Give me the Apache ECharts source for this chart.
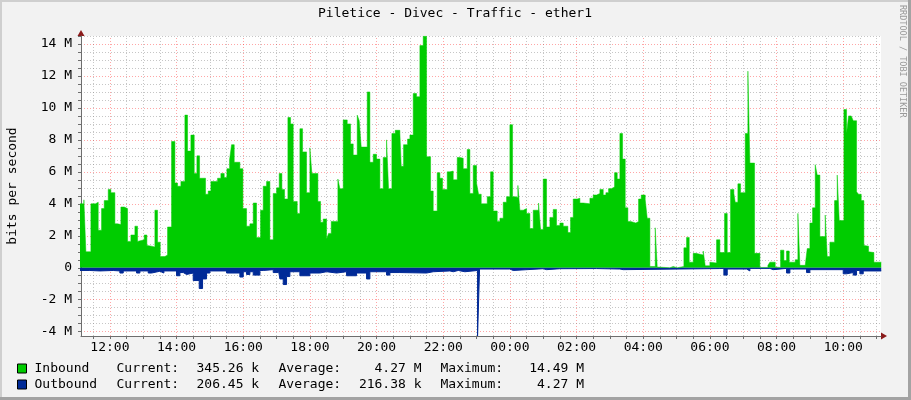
<!DOCTYPE html>
<html lang="en">
  <head>
    <meta charset="UTF-8" />
    <title>Piletice - Divec - Traffic - ether1</title>
    <script src="https://cdn.jsdelivr.net/npm/echarts@6/dist/echarts.min.js"></script>
    <style>
      html,
      body {
        width: 100%;
        height: 100%;
        margin: 0;
        padding: 0;
        background: #f2f2f2;
      }
    </style>
  </head>
  <body>
    <div id="main" style="width: 911px; height: 400px"></div>
    <script type="text/javascript">
      // time in hours since midnight of day one (values past 24 = next day), rates in Mbit/s
      var inbound = [
        [11.10, 4.0], [11.22, 4.25], [11.28, 1.0], [11.43, 4.0], [11.57, 4.1], [11.65, 2.35],
        [11.75, 3.7], [11.83, 4.2], [11.95, 4.9], [12.03, 4.7], [12.15, 2.75], [12.23, 2.7],
        [12.33, 3.8], [12.43, 3.7], [12.53, 1.65], [12.63, 2.05], [12.75, 2.6], [12.83, 1.65],
        [12.89, 1.75], [13.03, 2.05], [13.11, 1.4], [13.15, 1.35], [13.25, 1.3], [13.35, 3.6],
        [13.43, 1.6], [13.51, 0.7], [13.65, 0.8], [13.73, 2.55], [13.85, 7.9], [13.95, 5.3],
        [14.03, 5.1], [14.13, 5.4], [14.25, 9.55], [14.33, 7.3], [14.43, 8.3], [14.53, 5.9],
        [14.61, 7.0], [14.69, 5.6], [14.87, 4.6], [14.95, 4.8], [15.03, 5.4], [15.23, 5.6],
        [15.33, 5.9], [15.43, 5.65], [15.51, 6.2], [15.59, 6.75], [15.65, 7.7], [15.73, 6.6],
        [15.90, 6.2], [15.99, 3.7], [16.10, 2.6], [16.20, 2.75], [16.30, 4.05], [16.40, 1.9],
        [16.52, 3.6], [16.60, 5.1], [16.70, 5.4], [16.80, 1.75], [16.90, 4.65], [17.00, 5.0],
        [17.08, 5.9], [17.16, 4.9], [17.24, 4.3], [17.34, 9.4], [17.42, 9.0], [17.50, 4.15],
        [17.62, 3.4], [17.70, 8.7], [17.78, 7.25], [17.90, 4.7], [18.00, 7.5], [18.06, 5.9],
        [18.24, 4.15], [18.32, 2.85], [18.40, 3.05], [18.50, 1.8], [18.56, 2.15], [18.64, 2.9],
        [18.84, 5.55], [18.90, 4.95], [19.00, 9.25], [19.12, 9.0], [19.22, 7.75], [19.30, 7.05],
        [19.42, 9.55], [19.48, 9.2], [19.54, 7.55], [19.72, 11.0], [19.80, 6.6], [19.90, 7.1],
        [20.00, 6.8], [20.10, 4.95], [20.20, 6.9], [20.30, 8.0], [20.36, 4.95], [20.46, 8.4],
        [20.56, 8.6], [20.70, 8.4], [20.74, 6.35], [20.81, 7.7], [20.93, 8.05], [21.00, 8.3],
        [21.10, 10.9], [21.20, 10.7], [21.30, 13.9], [21.40, 14.49], [21.50, 6.95], [21.62, 4.8],
        [21.70, 3.55], [21.82, 5.95], [21.90, 5.6], [21.98, 4.9], [22.12, 6.0], [22.20, 6.05],
        [22.30, 5.5], [22.42, 6.9], [22.50, 6.85], [22.60, 6.2], [22.72, 7.4], [22.80, 4.65],
        [22.90, 6.4], [23.00, 5.3], [23.06, 4.6], [23.14, 4.0], [23.32, 4.45], [23.42, 6.0],
        [23.50, 3.55], [23.62, 2.9], [23.70, 3.1], [23.80, 4.1], [23.90, 4.45], [24.00, 8.95],
        [24.08, 4.45], [24.16, 4.4], [24.24, 5.15], [24.30, 3.6], [24.40, 3.7], [24.50, 3.4],
        [24.60, 2.45], [24.70, 3.6], [24.86, 4.05], [24.92, 2.4], [25.00, 5.55], [25.10, 2.55],
        [25.20, 3.15], [25.30, 3.65], [25.40, 2.65], [25.50, 2.8], [25.60, 2.6], [25.74, 2.2],
        [25.82, 3.15], [25.90, 4.3], [26.02, 4.35], [26.10, 4.05], [26.20, 4.0], [26.40, 4.35],
        [26.50, 4.55], [26.60, 4.65], [26.70, 4.9], [26.80, 4.55], [26.88, 4.7], [26.96, 4.95],
        [27.04, 5.05], [27.14, 5.95], [27.22, 5.55], [27.30, 8.4], [27.38, 6.8], [27.46, 3.75],
        [27.54, 2.9], [27.62, 2.85], [27.70, 2.8], [27.78, 2.9], [27.86, 4.3], [27.94, 4.55],
        [28.06, 4.25], [28.12, 3.1], [28.20, 0.08], [28.36, 2.5], [28.42, 0.04], [28.50, 0],
        [28.80, 0.08], [28.90, 0], [29.02, 0.08], [29.22, 1.25], [29.30, 1.9], [29.38, 0.35],
        [29.50, 0.9], [29.58, 0.8], [29.80, 1.05], [29.86, 0.12], [30.00, 0.35], [30.06, 0.3],
        [30.20, 1.75], [30.30, 0.95], [30.44, 3.4], [30.52, 0.95], [30.62, 4.9], [30.72, 4.65],
        [30.76, 4.1], [30.84, 5.25], [30.92, 4.7], [31.06, 8.4], [31.14, 12.3], [31.20, 6.55],
        [31.34, 0.9], [31.50, 0.02], [31.74, 0.15], [31.80, 0.35], [31.96, 0.05], [32.02, 0.02],
        [32.12, 1.1], [32.22, 0.45], [32.30, 1.05], [32.38, 0.35], [32.56, 0.5], [32.64, 3.4],
        [32.70, 0.15], [32.86, 0.25], [32.92, 1.2], [33.00, 2.8], [33.08, 3.75], [33.16, 6.45],
        [33.22, 5.8], [33.30, 1.95], [33.46, 3.3], [33.52, 0.7], [33.60, 1.6], [33.74, 4.2],
        [33.82, 5.8], [33.88, 2.95], [34.02, 9.9], [34.10, 8.4], [34.16, 9.5], [34.24, 9.45],
        [34.30, 9.2], [34.40, 4.75], [34.46, 4.6], [34.54, 4.2], [34.62, 1.4], [34.68, 1.35],
        [34.76, 1.0], [34.82, 0.95], [34.92, 0.35], [35.14, 0.35]
      ];
      var outbound = [
        [11.10, 0.17], [11.40, 0.2], [11.70, 0.17], [12.10, 0.2], [12.30, 0.33], [12.40, 0.2],
        [12.80, 0.33], [12.90, 0.2], [13.15, 0.33], [13.25, 0.22], [13.50, 0.33], [13.62, 0.2],
        [14.00, 0.5], [14.10, 0.3], [14.20, 0.42], [14.30, 0.33], [14.50, 0.8], [14.68, 1.3],
        [14.78, 0.7], [14.90, 0.33], [15.00, 0.2], [15.50, 0.33], [15.90, 0.58], [16.00, 0.25],
        [16.10, 0.42], [16.20, 0.25], [16.30, 0.46], [16.50, 0.17], [16.60, 0.12], [16.90, 0.3],
        [17.05, 0.08], [17.10, 0.7], [17.20, 1.05], [17.30, 0.55], [17.40, 0.25], [17.70, 0.5],
        [18.00, 0.33], [18.30, 0.25], [18.50, 0.33], [18.80, 0.25], [19.10, 0.5], [19.40, 0.33],
        [19.70, 0.7], [19.80, 0.25], [20.30, 0.46], [20.40, 0.3], [20.70, 0.33], [21.50, 0.25],
        [21.70, 0.2], [22.20, 0.25], [22.30, 0.17], [22.45, 0.25], [22.65, 0.17], [23.03, 4.27],
        [23.09, 0.08], [24.00, 0.17], [24.10, 0.06], [25.00, 0.12], [25.10, 0.06], [25.50, 0.05],
        [26.60, 0.08], [27.30, 0.12], [27.40, 0.05], [30.30, 0.04], [30.42, 0.46], [30.52, 0.08],
        [31.10, 0.2], [31.20, 0.04], [31.80, 0.12], [31.90, 0.04], [32.30, 0.33], [32.40, 0.08],
        [32.90, 0.3], [33.00, 0.12], [34.00, 0.38], [34.10, 0.3], [34.30, 0.46], [34.40, 0.17],
        [34.50, 0.38], [34.60, 0.2], [35.14, 0.2]
      ];
      var hourLabels = [12, 14, 16, 18, 20, 22, 24, 26, 28, 30, 32, 34];
      var rateLabels = [-4, -2, 0, 2, 4, 6, 8, 10, 12, 14];
      var legendRows = [
        { name: "Inbound", color: "#00CC00", current: "345.26 k", average: "4.27 M", maximum: "14.49 M" },
        { name: "Outbound", color: "#002A97", current: "206.45 k", average: "216.38 k", maximum: "4.27 M" }
      ];

      var tStart = 11.1333;
      var tEnd = 35.1333;
      var mono = "DejaVu Sans Mono";
      var minorGrid = "rgba(128,128,128,0.45)";
      var majorGrid = "rgba(255,0,0,0.35)";

      // grid every 30 min / 0.5 M, red ones on the labelled steps
      var xTicks = [];
      for (var h = 11.5; h <= 35; h += 0.5) xTicks.push(h);
      var yTicks = [];
      for (var v = -4; v <= 14.5; v += 0.5) yTicks.push(v);
      var gridLines = [];
      xTicks.forEach(function (h) {
        gridLines.push({ xAxis: h, lineStyle: { color: h % 2 === 0 ? majorGrid : minorGrid } });
      });
      yTicks.forEach(function (v) {
        gridLines.push({ yAxis: v, lineStyle: { color: v % 2 === 0 ? majorGrid : minorGrid } });
      });

      var myChart = echarts.init(document.getElementById("main"));

      var graphics = [
        // frame
        { type: "rect", shape: { x: 0, y: 0, width: 911, height: 2 }, style: { fill: "#cfcfcf" } },
        { type: "rect", shape: { x: 0, y: 0, width: 2, height: 400 }, style: { fill: "#cfcfcf" } },
        { type: "rect", shape: { x: 0, y: 397, width: 911, height: 3 }, style: { fill: "#a3a3a3" } },
        { type: "rect", shape: { x: 908, y: 0, width: 3, height: 400 }, style: { fill: "#a3a3a3" } },
        {
          type: "text", x: 455, y: 14,
          style: { text: "Piletice - Divec - Traffic - ether1", font: "13px " + mono, fill: "#000", align: "center", verticalAlign: "middle" }
        },
        {
          type: "text", x: 902, y: 5, rotation: -Math.PI / 2,
          style: { text: "RRDTOOL / TOBI OETIKER", font: "8.5px " + mono, fill: "#999", align: "left", verticalAlign: "middle" }
        },
        // axis arrows
        { type: "polygon", zlevel: 1, shape: { points: [[77.5, 36], [84.5, 36], [81, 30]] }, style: { fill: "#8b1a1a" } },
        { type: "polygon", zlevel: 1, shape: { points: [[881, 332.5], [881, 339.5], [887, 336]] }, style: { fill: "#8b1a1a" } }
      ];
      legendRows.forEach(function (r, i) {
        var y = 368.5 + i * 16;
        graphics.push({ type: "rect", shape: { x: 17.5, y: y - 4.5, width: 9, height: 9 }, style: { fill: r.color, stroke: "#000", lineWidth: 1 } });
        var cells = [
          [r.name, 34.5, "left"], ["Current:", 116.5, "left"], [r.current, 196.5, "left"],
          ["Average:", 278.5, "left"], [r.average, 421.5, "right"], ["Maximum:", 440.5, "left"],
          [r.maximum, 584, "right"]
        ];
        cells.forEach(function (c) {
          graphics.push({
            type: "text", x: c[1], y: y,
            style: { text: c[0], font: "13px " + mono, fill: "#000", align: c[2], verticalAlign: "middle" }
          });
        });
      });

      option = {
        backgroundColor: "#f2f2f2",
        animation: false,
        grid: {
          left: 81, top: 36, width: 800, height: 300,
          outerBoundsMode: "none",
          containLabel: false,
          show: true, backgroundColor: "#ffffff", borderWidth: 0
        },
        xAxis: {
          type: "value",
          min: tStart,
          max: tEnd,
          zlevel: 1,
          axisLine: { show: true, onZero: false, lineStyle: { color: "#6e6e6e", width: 1 } },
          axisTick: { show: true, customValues: xTicks, length: 3, lineStyle: { color: "#6e6e6e" } },
          axisLabel: {
            customValues: hourLabels,
            margin: 5,
            fontFamily: mono,
            fontSize: 13,
            color: "#000",
            formatter: function (val) {
              var hh = Math.round(val) % 24;
              return (hh < 10 ? "0" : "") + hh + ":00";
            }
          },
          splitLine: { show: false }
        },
        yAxis: {
          type: "value",
          min: -4.27,
          max: 14.5,
          zlevel: 1,
          name: "bits per second",
          nameLocation: "middle",
          nameRotate: 90,
          nameGap: 62,
          nameTextStyle: { fontFamily: mono, fontSize: 13, color: "#000" },
          axisLine: { show: true, lineStyle: { color: "#6e6e6e", width: 1 } },
          axisTick: { show: true, customValues: yTicks, length: 3, lineStyle: { color: "#6e6e6e" } },
          axisLabel: {
            customValues: rateLabels,
            margin: 9,
            fontFamily: mono,
            fontSize: 13,
            color: "#000",
            formatter: function (val) {
              return val === 0 ? "0" : val + " M";
            }
          },
          splitLine: { show: false }
        },
        series: [
          {
            name: "grid",
            type: "line",
            data: [],
            silent: true,
            markLine: {
              silent: true,
              symbol: "none",
              label: { show: false },
              lineStyle: { type: [1, 2], width: 1 },
              data: gridLines
            }
          },
          {
            name: "Inbound",
            type: "line",
            zlevel: 1,
            step: "end",
            showSymbol: false,
            data: inbound,
            lineStyle: { width: 0.5, color: "#00CC00" },
            areaStyle: { color: "#00CC00", opacity: 1 }
          },
          {
            name: "Outbound",
            type: "line",
            zlevel: 1,
            step: "end",
            showSymbol: false,
            data: outbound.map(function (p) {
              return [p[0], -p[1]];
            }),
            lineStyle: { width: 1, color: "#002A97" },
            areaStyle: { color: "#002A97", opacity: 1 }
          }
        ],
        graphic: graphics
      };
      myChart.setOption(option);
    </script>
  </body>
</html>
